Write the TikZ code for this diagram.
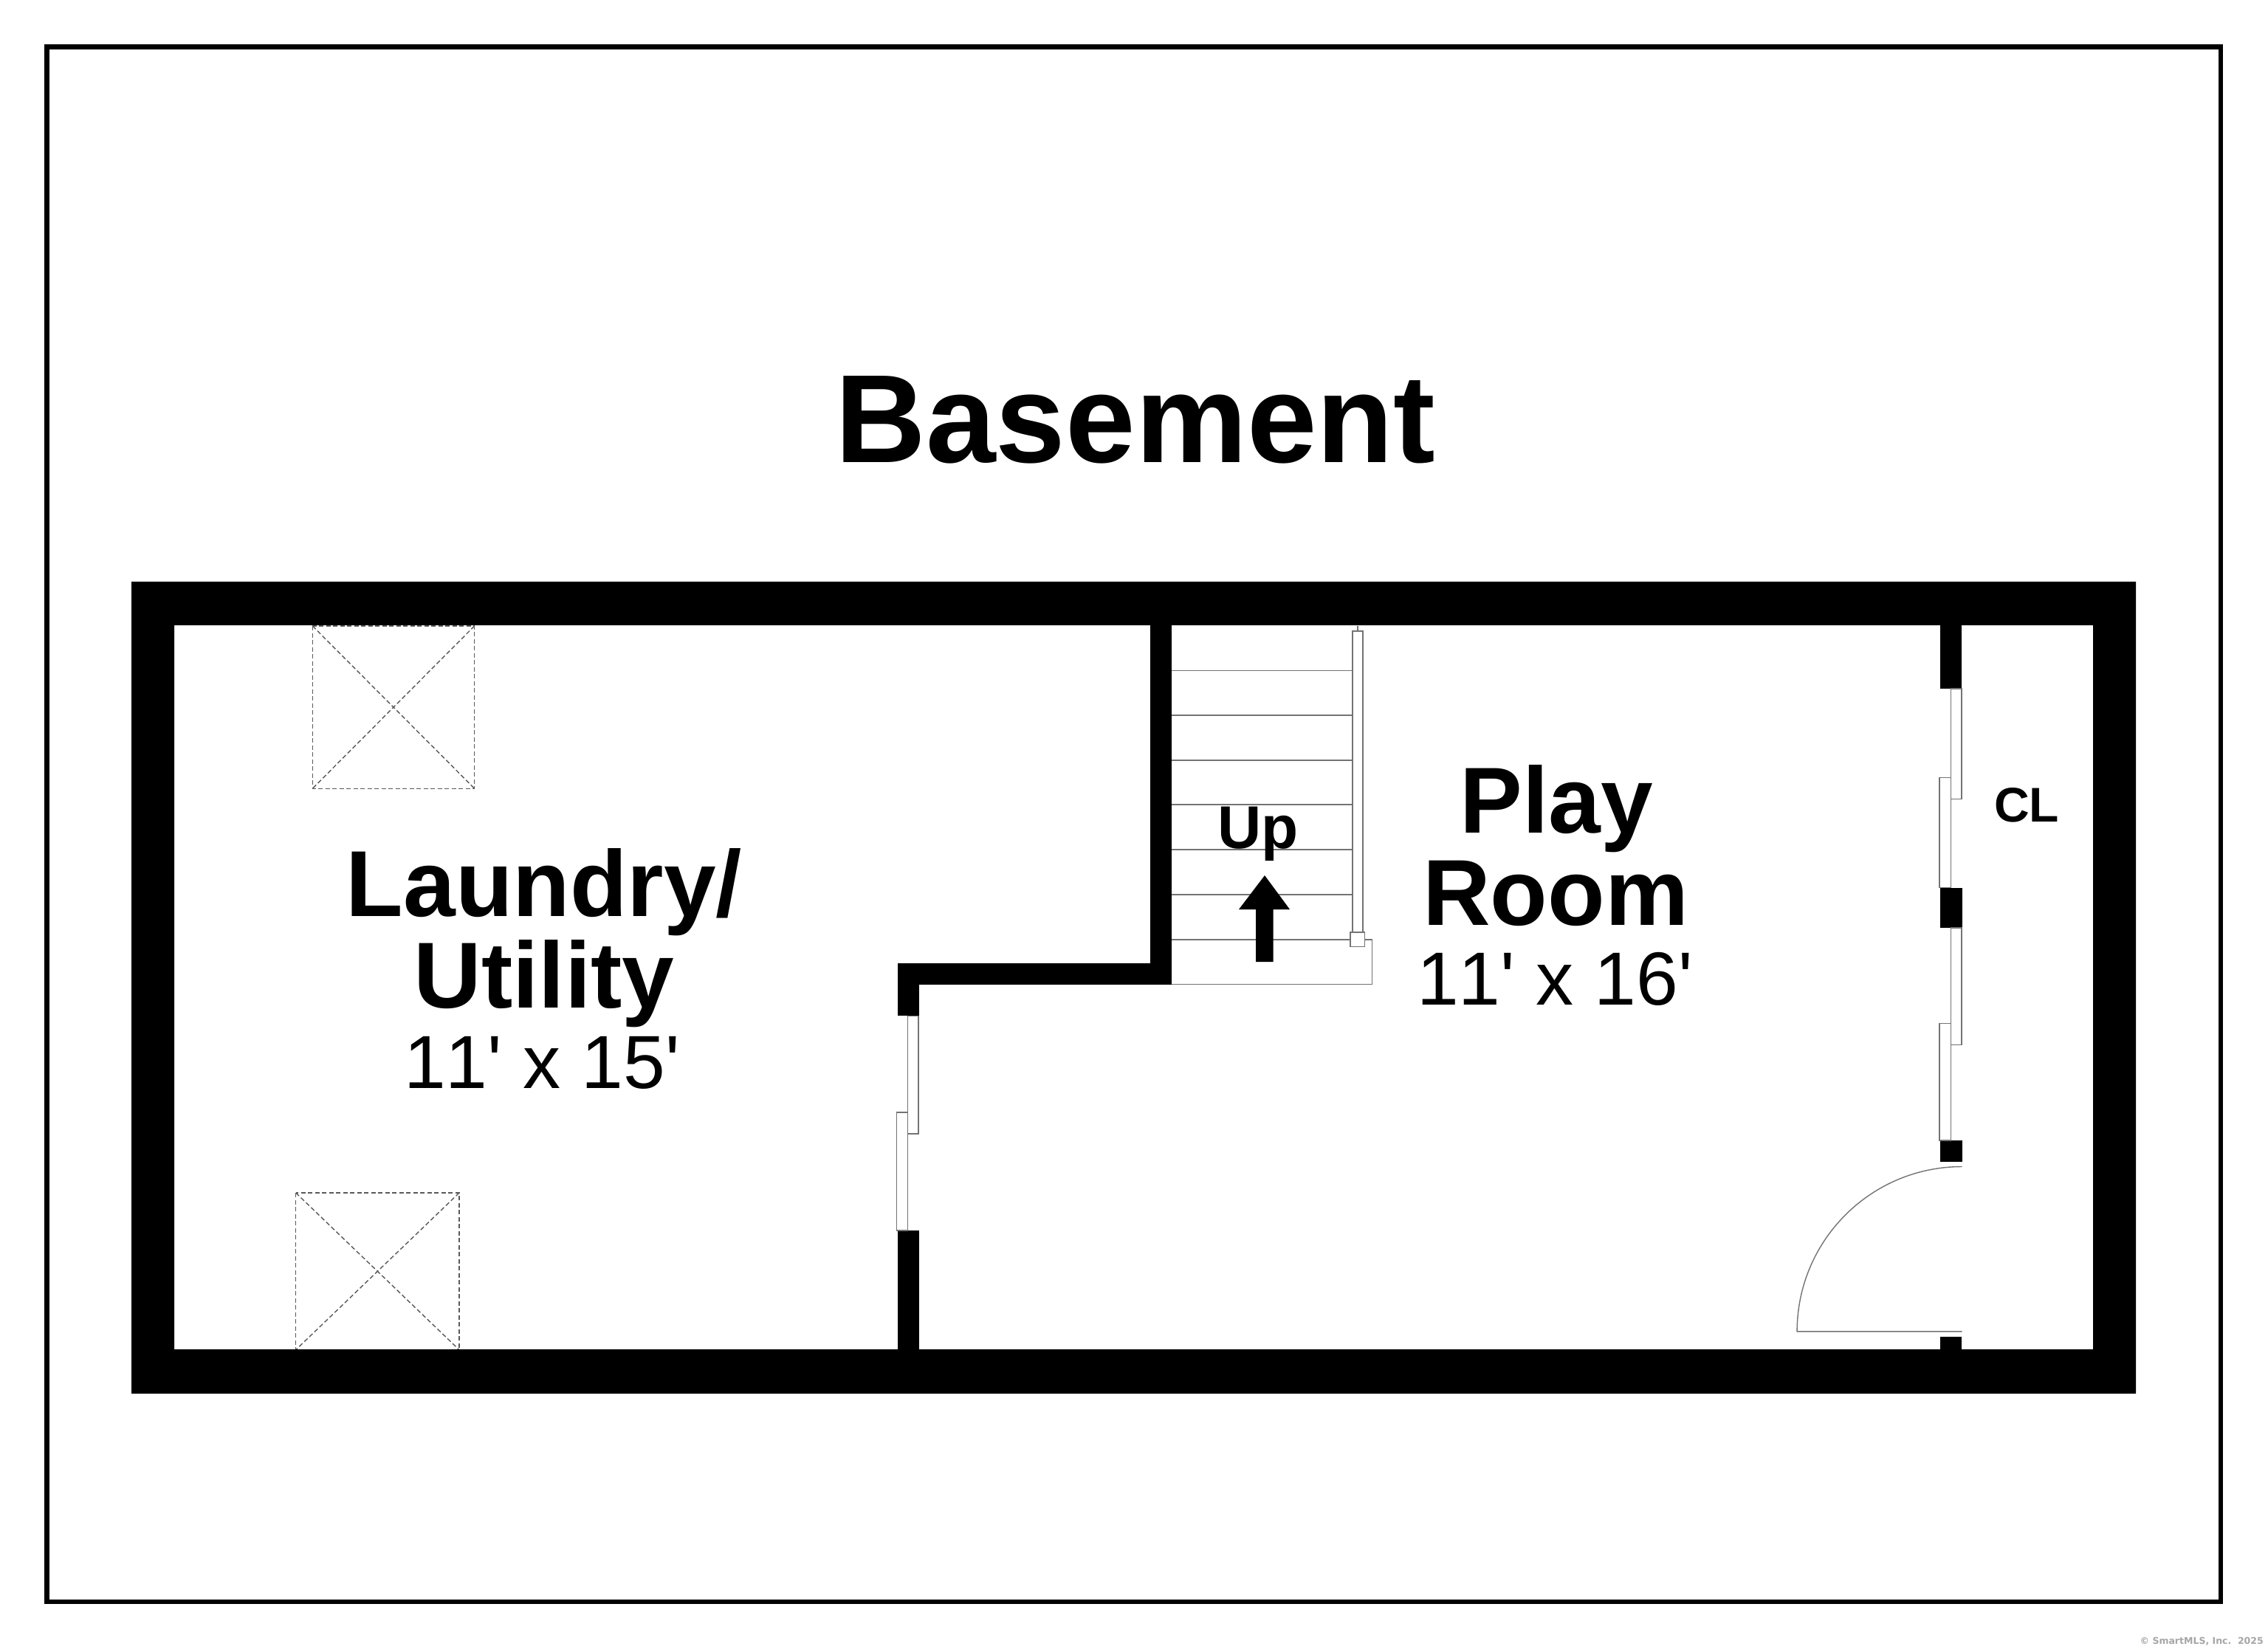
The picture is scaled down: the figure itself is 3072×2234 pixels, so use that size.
\documentclass[tikz,border=0pt]{standalone}
\usepackage{fontspec}
\newfontfamily\labelfont{Liberation Sans}
\newfontfamily\dimfont[Kerning=Off]{Liberation Sans}
\newfontfamily\markfont{DejaVu Sans}
\newcommand{\px}[1]{\fontsize{#1}{#1}\selectfont}
\tikzset{
  wall/.style={fill=black,draw=none},
  thin line/.style={draw=black!55,line width=1.4pt},
  pane/.style={draw=black!55,line width=1.4pt,fill=white},
  shaft/.style={draw=black!65,line width=1.4pt,dash pattern=on 6pt off 3.5pt},
  lbl/.style={inner sep=0pt,anchor=base,text=black,font=\labelfont},
}
\begin{document}
\begin{tikzpicture}[x=1pt,y=-1pt]
\useasboundingbox (0,0) rectangle (3072,2234);
\fill[white] (0,0) rectangle (3072,2234);
% frame
\draw[black,line width=6.5pt] (63.3,63.3) rectangle (3008,2170);
% shafts
\draw[shaft] (423.3,848) rectangle (642.7,1068.3);
\draw[shaft] (423.3,848) -- (642.7,1068.3);
\draw[shaft] (642.7,848) -- (423.3,1068.3);
\draw[shaft] (400.7,1616) rectangle (622,1828.7);
\draw[shaft] (400.7,1616) -- (622,1828.7);
\draw[shaft] (622,1616) -- (400.7,1828.7);
% stairs
\foreach \yy in {908.6,969,1030,1090,1151,1212,1273}
  \draw[thin line] (1587,\yy) -- (1832,\yy);
\draw[thin line] (1587,1273) -- (1858.7,1273) -- (1858.7,1333.5) -- (1587,1333.5);
\draw[thin line] (1839,848) -- (1839,855);
\draw[pane] (1832,855) rectangle (1846,1263);
\draw[pane] (1829,1263) rectangle (1848.5,1282.5);
% walls
\fill[wall,even odd rule] (178,788) rectangle (2893,1888) (236,847) rectangle (2835,1828);
\fill[wall] (1558,847) rectangle (1587,1334);
\fill[wall] (1216,1305) rectangle (1587,1334);
\fill[wall] (1216,1305) rectangle (1244.5,1376.4);
\fill[wall] (1216,1667) rectangle (1244.5,1829);
\fill[wall] (2628,847) rectangle (2657,933);
\fill[wall] (2628,1202.7) rectangle (2658,1257);
\fill[wall] (2628,1545) rectangle (2658,1574);
\fill[wall] (2628,1811) rectangle (2657,1829);
% sliding panes
\draw[pane] (1229.3,1376.4) rectangle (1244,1536);
\draw[pane] (1214.3,1507) rectangle (1229.3,1667);
\draw[pane] (2642.5,933) rectangle (2657,1082.7);
\draw[pane] (2627,1053.7) rectangle (2642.5,1202.7);
\draw[pane] (2642.5,1257) rectangle (2657,1415.6);
\draw[pane] (2627,1386.5) rectangle (2642.5,1545);
% door
\draw[thin line] (2657.5,1580.5) arc[start angle=-90,end angle=-180,radius=223.4] -- (2657.5,1803.9);
% arrow
\fill[black] (1713,1186) -- (1747,1232) -- (1724.5,1232) -- (1724.5,1303) -- (1701,1303) -- (1701,1232) -- (1678,1232) -- cycle;
% labels
\node[lbl] (title) at (1538,626) {\px{170}\bfseries Basement};
\node[lbl] (laundry) at (737,1241) {\px{127}\bfseries Laundry/};
\node[lbl] (utility) at (737,1365) {\px{127}\bfseries Utility};
\node[lbl] (dim1) at (734,1474) {\px{102}\dimfont 11' x 15'};
\node[lbl] (play) at (2108,1128) {\px{127}\bfseries Play};
\node[lbl] (room) at (2107,1253) {\px{127}\bfseries Room};
\node[lbl] (dim2) at (2106,1361) {\px{102}\dimfont 11' x 16'};
\node[lbl] (up) at (1704,1149) {\px{82}\bfseries Up};
\node[lbl] (cl) at (2745,1113) {\px{66}\bfseries CL};
\node[inner sep=0pt,anchor=base east,text=black!35] (mark) at (3066,2227) {\px{12.5}\markfont\bfseries © SmartMLS, Inc.~~2025};
\end{tikzpicture}
\end{document}
